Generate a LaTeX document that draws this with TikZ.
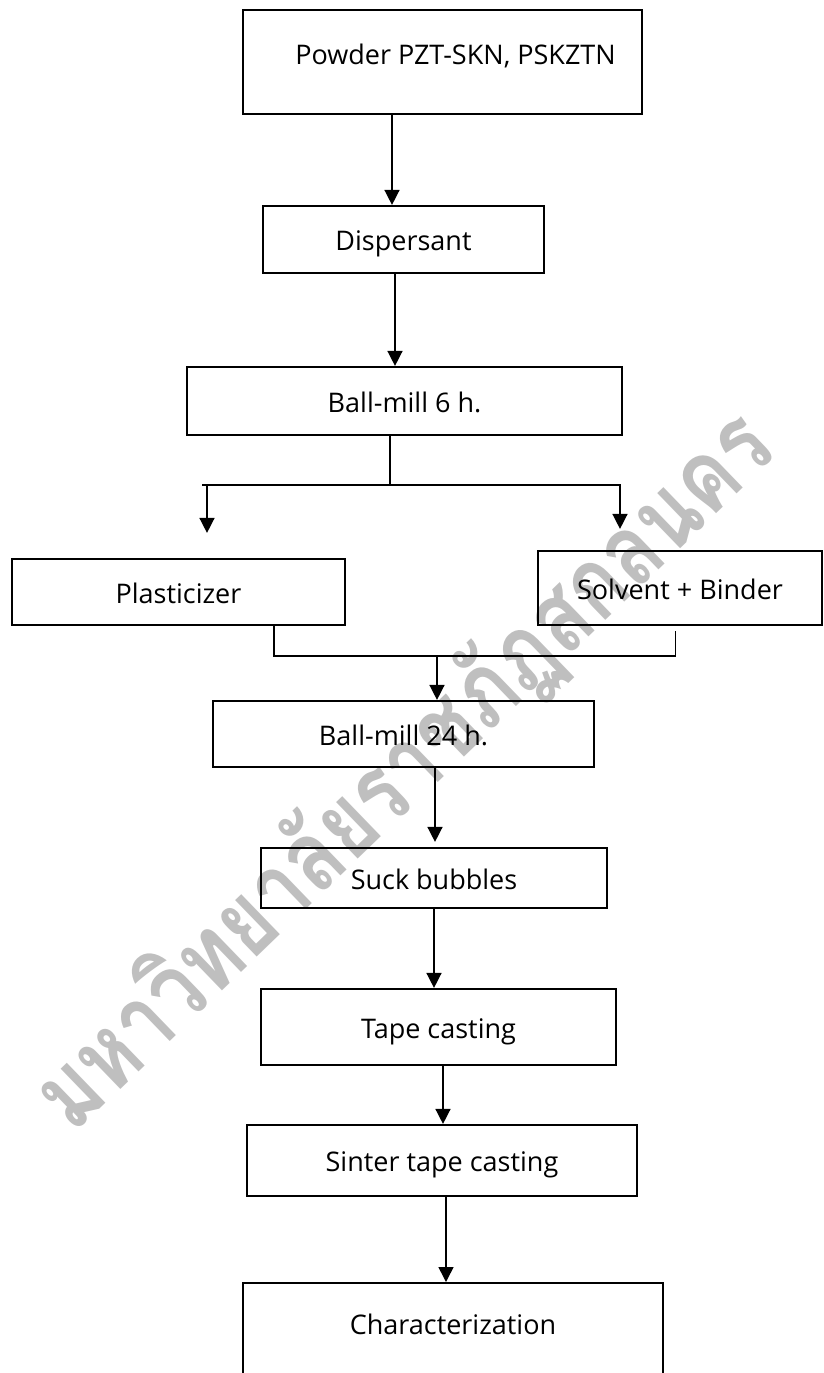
\documentclass[tikz,border=0pt]{standalone}
\usepackage{fontspec}
\setmainfont{Open Sans}
\newfontfamily\thaifont[Script=Thai]{Loma}
\usetikzlibrary{arrows.meta,calc}
\tikzset{
  box/.style={draw,line width=1.1pt,inner sep=0pt,text height=1.25em,text depth=0.15em},
  line/.style={line width=0.75pt},
  arr/.style={line width=0.75pt,-{Triangle[length=7.5pt,width=7.5pt]}},
  wm/.style={text=black!25,font=\thaifont\bfseries\fontsize{50}{60}\selectfont}
}
\begin{document}
\begin{tikzpicture}[x=0.5pt,y=-0.5pt,every node/.style={font=\fontsize{13.5}{16}\selectfont}]
  \useasboundingbox (0,0) rectangle (824,1373);
  \clip (0,0) rectangle (824,1373);
  % watermark
  \node[wm,rotate=44,xscale=0.8] (wmark) at (405,772) {มหาวิทยาลัยราชภัฏสกลนคร};
  % process steps
  \node[box,minimum width=199.5pt,minimum height=52pt,text height=0.75em,text depth=0.48em] (powder) at (442.5,62) {\hspace*{13pt}Powder PZT-SKN, PSKZTN};
  \node[box,minimum width=140.5pt,minimum height=33.5pt] (disp) at (403.5,239.5) {Dispersant};
  \node[box,minimum width=217.5pt,minimum height=34pt] (bm6) at (404.5,401) {Ball-mill 6 h.};
  \node[box,minimum width=166.5pt,minimum height=33pt] (plast) at (178.5,592) {Plasticizer};
  \node[box,minimum width=142pt,minimum height=37pt] (solv) at (680,588) {Solvent + Binder};
  \node[box,minimum width=190.5pt,minimum height=33pt] (bm24) at (403.5,734) {Ball-mill 24 h.};
  \node[box,minimum width=173pt,minimum height=30pt] (suck) at (434,878) {Suck bubbles};
  \node[box,minimum width=177.5pt,minimum height=38pt] (tape) at (438.5,1027) {Tape casting};
  \node[box,minimum width=195pt,minimum height=35.5pt] (sinter) at (442,1160.5) {Sinter tape casting};
  \node[box,anchor=north,minimum width=210pt,text height=25.5pt,text depth=60pt] (char) at (453,1282) {Characterization};
  % top part
  \coordinate (c1) at ($(powder.south)+(-50.5,0)$);
  \draw[arr] (c1) -- (c1 |- disp.north);
  \coordinate (c2) at ($(disp.south)+(-8.5,0)$);
  \draw[arr] (c2) -- (c2 |- bm6.north);
  % split into two additives
  \coordinate (c3) at ($(bm6.south)+(-14.5,0)$);
  \coordinate (sp) at ($(c3)+(0,50)$);
  \draw[line] (c3) -- (sp);
  \coordinate (spL) at (202,485);
  \coordinate (spR) at (621,485);
  \draw[line] (spL) -- (spR);
  \coordinate (tipL) at ($(plast.north)+(28.5,-25)$);
  \draw[arr] (tipL |- spL) -- (tipL);
  \coordinate (tipR) at ($(solv.north)+(-60,-21)$);
  \draw[arr] (tipR |- spR) -- (tipR);
  % join again
  \coordinate (m1) at ($(plast.south)+(95.5,0)$);
  \coordinate (m2) at ($(solv.south)+(-4.5,5)$);
  \coordinate (mj) at ($(m1)+(0,30)$);
  \draw[line] (m1) -- (mj) -| (m2);
  \coordinate (c4) at ($(bm24.north)+(33.5,0)$);
  \draw[arr] (c4 |- mj) -- (c4);
  % lower part
  \coordinate (c5) at ($(bm24.south)+(31.5,0)$);
  \draw[arr] (c5) -- ($(c5 |- suck.north)+(0,-5)$);
  \draw[arr] (suck.south) -- (suck.south |- tape.north);
  \coordinate (c6) at ($(tape.south)+(4.5,0)$);
  \draw[arr] (c6) -- (c6 |- sinter.north);
  \coordinate (c7) at ($(sinter.south)+(4,0)$);
  \draw[arr] (c7) -- (c7 |- char.north);
\end{tikzpicture}
\end{document}
